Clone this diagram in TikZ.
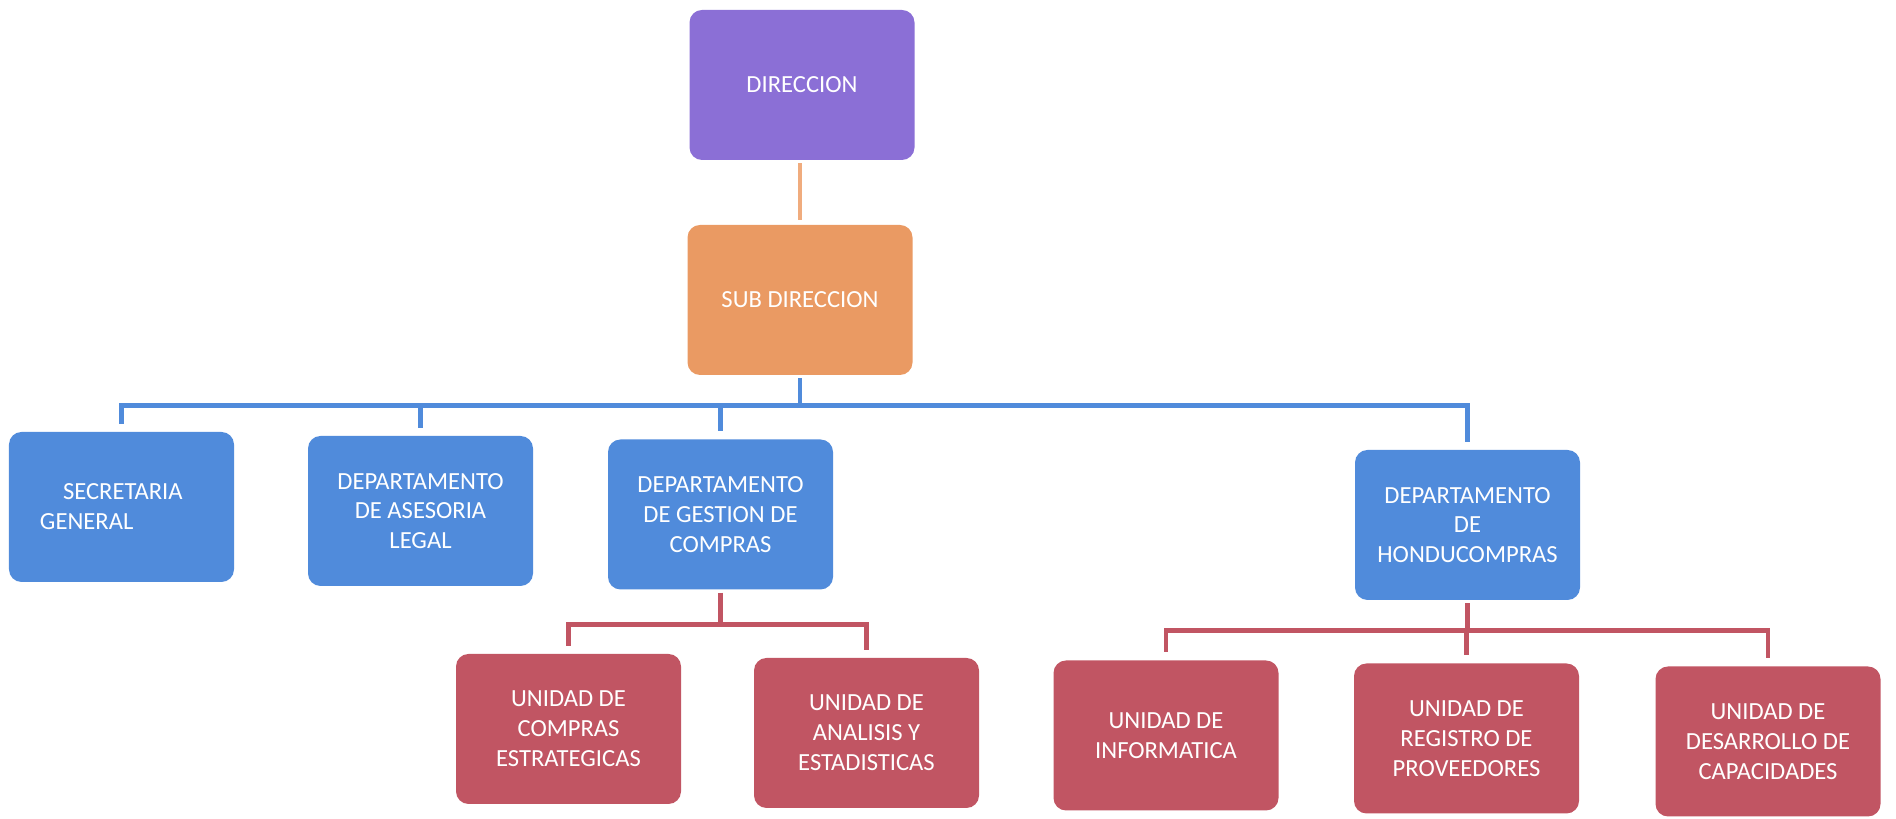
\documentclass[tikz,border=0pt]{standalone}
\usepackage{fontspec}
\setmainfont{Carlito}
\usetikzlibrary{calc}
\usetikzlibrary{positioning}
\definecolor{dirPurple}{RGB}{139,111,214}
\definecolor{subOrange}{RGB}{234,154,99}
\definecolor{depBlue}{RGB}{80,139,219}
\definecolor{uniRed}{RGB}{193,85,99}
\definecolor{lineOrange}{RGB}{240,172,126}
\tikzstyle{orgnode} = [rounded corners=0.25cm, minimum width=4.5cm, minimum height=3cm, text=white, align=center, font=\fontsize{14}{17}\selectfont]
\tikzstyle{colorDir} = [fill=dirPurple]
\tikzstyle{colorSub} = [fill=subOrange]
\tikzstyle{colorDep} = [fill=depBlue]
\tikzstyle{colorUni} = [fill=uniRed]
\tikzstyle{link} = [line width=2.5pt, shorten <=0.06cm, shorten >=0.16cm]

\begin{document}
\begin{tikzpicture}
    \useasboundingbox (0,0) rectangle (37.92,16.38);
    \node[orgnode, colorDir] (dir) at (16.04,14.68) {DIRECCION};
    \node[orgnode, colorSub] (sub_dir) at ($(dir)+(-0.04,-4.30)$) {SUB DIRECCION};
    \node[orgnode, colorDep, text width=3.26cm, align=left] (sec_gen) at (2.43,6.24) {\hspace*{0.46cm}SECRETARIA\\GENERAL};
    \node[orgnode, colorDep] (dep_legal) at ($(sec_gen)+(5.98,-0.08)$) {DEPARTAMENTO\\DE ASESORIA\\LEGAL};
    \node[orgnode, colorDep] (dep_gestion) at ($(dep_legal)+(6.0,-0.07)$) {DEPARTAMENTO\\DE GESTION DE\\COMPRAS};
    \node[orgnode, colorDep] (dep_hondu) at ($(dep_gestion)+(14.94,-0.21)$) {DEPARTAMENTO\\DE\\HONDUCOMPRAS};
    \node[orgnode, colorUni] (uni_estrat) at ($(dep_gestion)+(-3.04,-4.29)$) {UNIDAD DE\\COMPRAS\\ESTRATEGICAS};
    \node[orgnode, colorUni] (uni_analisis) at ($(uni_estrat)+(5.96,-0.08)$) {UNIDAD DE\\ANALISIS Y\\ESTADISTICAS};
    \node[orgnode, colorUni] (uni_info) at ($(dep_hondu)+(-6.03,-4.21)$) {UNIDAD DE\\INFORMATICA};
    \node[orgnode, colorUni] (uni_registro) at ($(dep_hondu)+(-0.02,-4.27)$) {UNIDAD DE\\REGISTRO DE\\PROVEEDORES};
    \node[orgnode, colorUni] (uni_capac) at ($(uni_registro)+(6.03,-0.06)$) {UNIDAD DE\\DESARROLLO DE\\CAPACIDADES};
    \draw[link, lineOrange, shorten >=0.1cm] (dir.south -| sub_dir.north) -- (sub_dir.north);
    \foreach \child in {sec_gen, dep_legal, dep_gestion, dep_hondu}
        \draw[link, depBlue] (sub_dir.south) -- ++(0,-0.6) -| (\child.north);
    \foreach \child in {uni_estrat, uni_analisis}
        \draw[link, uniRed] (dep_gestion.south) -- ++(0,-0.69) -| (\child.north);
    \foreach \child in {uni_info, uni_registro, uni_capac}
        \draw[link, uniRed] (dep_hondu.south) -- ++(0,-0.6) -| (\child.north);
\end{tikzpicture}
\end{document}
